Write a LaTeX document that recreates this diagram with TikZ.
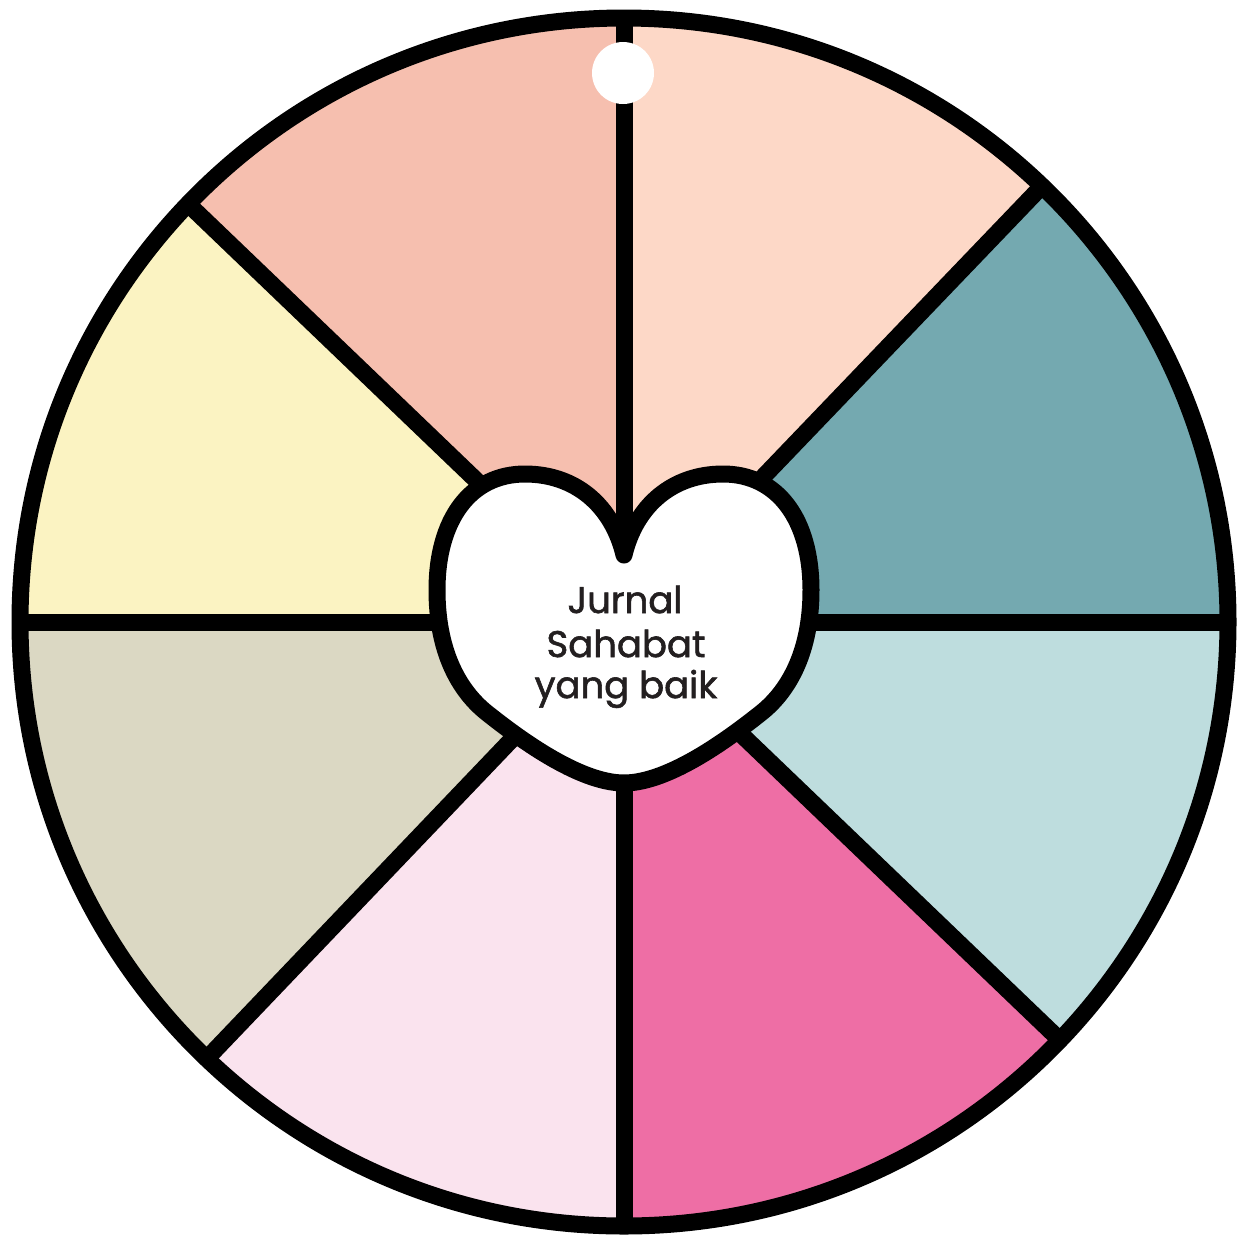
\documentclass[tikz,border=0pt]{standalone}
\usepackage{fontspec}
\usetikzlibrary{calc}
\newfontfamily\hfont{Poppins}[FakeBold=1.6]
\definecolor{cTeal}{HTML}{74A9B0}
\definecolor{cPeach}{HTML}{FDD8C7}
\definecolor{cSalmon}{HTML}{F6BFAF}
\definecolor{cYellow}{HTML}{FBF3C2}
\definecolor{cBeige}{HTML}{DBD8C3}
\definecolor{cLpink}{HTML}{FAE3EE}
\definecolor{cPink}{HTML}{EE6EA5}
\definecolor{cLblue}{HTML}{BEDDDE}
\definecolor{cInk}{HTML}{231F20}
\begin{document}
\begin{tikzpicture}[x=1pt,y=-1pt,
  blk/.style={draw=black,line width=17pt},
  lbl/.style={anchor=base,inner sep=0pt,text=cInk,font=\hfont\fontsize{37}{43}\selectfont}]
\useasboundingbox (0,0) rectangle (1238,1240);
\fill[white] (0,0) rectangle (1238,1240);
\coordinate (C) at (624,622);
% sectors (screen angles, counter-clockwise)
\foreach \a/\b/\c in {0/46.2/cTeal,46.2/90/cPeach,90/136.2/cSalmon,136.2/180/cYellow,180/226.3/cBeige,226.3/270/cLpink,270/316.2/cPink,316.2/360/cLblue}
  \fill[\c] (C) -- ++(-\a:604) arc[start angle=-\a,end angle=-\b,radius=604] -- cycle;
% radial lines
\foreach \a [count=\i] in {0,46.2,90,136.2,180,226.3,270,316.2}
  \coordinate (e\i) at ($(C)+(-\a:604)$);
\foreach \i in {1,...,8}
  \draw[blk] (C) -- (e\i);
% outer rim
\draw[blk] (C) circle[radius=604];
% hanging hole
\fill[white] (623,73) circle[radius=31];
% heart
\draw[blk,fill=white,line join=round]
  (624,555) .. controls (612,505) and (575,474) .. (525,474)
  .. controls (470,474) and (437,520) .. (437,590)
  .. controls (437,650) and (458,690) .. (487,713)
  .. controls (516,736) and (578,783) .. (624,783)
  .. controls (670,783) and (732,736) .. (761,713)
  .. controls (790,690) and (811,650) .. (811,590)
  .. controls (811,520) and (778,474) .. (723,474)
  .. controls (673,474) and (636,505) .. (624,555) -- cycle;
\node[lbl] (t1) at (625,613) {Jurnal};
\node[lbl] (t2) at (626,657) {Sahabat};
\node[lbl] (t3) at (626,698) {yang baik};
\end{tikzpicture}
\end{document}
